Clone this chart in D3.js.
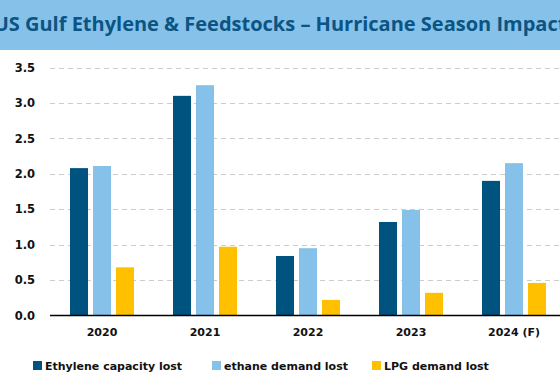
<!DOCTYPE html>
<html><head><meta charset="utf-8">
<script src="https://cdn.jsdelivr.net/npm/d3@7"></script>
<style>body{margin:0;background:#fff}svg{display:block}</style>
</head><body>
<svg id="c" width="560" height="379"></svg>
<script>
const title = "US Gulf Ethylene & Feedstocks \u2013 Hurricane Season Impact";
const categories = ["2020", "2021", "2022", "2023", "2024 (F)"];
const seriesNames = ["Ethylene capacity lost", "ethane demand lost", "LPG demand lost"];
const ethyleneLost = [2.08, 3.10, 0.84, 1.32, 1.90];
const ethaneLost = [2.11, 3.25, 0.95, 1.49, 2.15];
const lpgLost = [0.68, 0.97, 0.22, 0.32, 0.46];
const yTicks = [0, 0.5, 1.0, 1.5, 2.0, 2.5, 3.0, 3.5];
const colors = ["#00527f", "#85c1e9", "#ffc000"];

const series = [ethyleneLost, ethaneLost, lpgLost];
const svg = d3.select("#c");

// title band
svg.append("rect").attr("x",0).attr("y",0).attr("width",560).attr("height",50).attr("fill","#85c1e9");
svg.append("text").attr("x",280).attr("y",31).attr("text-anchor","middle")
  .attr("font-family","'Open Sans', sans-serif").attr("font-weight","bold").attr("font-size",20)
  .attr("fill","#0b5483").text(title);

const x0 = d3.scaleBand().domain(categories).range([50.5, 565.5]).paddingInner(0).paddingOuter(0);
const x1 = d3.scaleBand().domain(seriesNames).range([x0.bandwidth()/2-32, x0.bandwidth()/2+32]).paddingInner(0.217);
const y = d3.scaleLinear().domain([0, 3.5]).range([315.5, 67.5]);

// grid
svg.append("g").selectAll("line").data(yTicks.filter(d=>d>0)).join("line")
  .attr("x1",50).attr("x2",560).attr("y1",d=>Math.round(y(d))+0.5).attr("y2",d=>Math.round(y(d))+0.5)
  .attr("stroke","#cccccc").attr("stroke-width",1).attr("stroke-dasharray","5,4");

// y axis labels
const yAxis = d3.axisLeft(y).tickValues(yTicks).tickFormat(d3.format(".1f")).tickSize(0).tickPadding(0);
const ya = svg.append("g").attr("transform","translate(35,0)").call(yAxis);
ya.select(".domain").remove();
ya.selectAll("text").attr("font-family","'DejaVu Sans', sans-serif").attr("font-weight","bold")
  .attr("font-size",11.5).attr("fill","#111");

// bars
const g = svg.append("g");
categories.forEach((c,i)=>{
  seriesNames.forEach((s,j)=>{
    const v = series[j][i];
    g.append("rect").attr("x",x0(c)+x1(s)).attr("width",x1.bandwidth())
      .attr("y",y(v)).attr("height",y(0)-y(v)).attr("fill",colors[j]);
  });
});

// zero line
svg.append("line").attr("x1",50).attr("x2",560).attr("y1",315.5).attr("y2",315.5)
  .attr("stroke","#000").attr("stroke-width",1.5);

// x axis labels
const xAxis = d3.axisBottom(x0).tickSize(0).tickPadding(0);
const xa = svg.append("g").attr("transform","translate(0,328)").call(xAxis);
xa.select(".domain").remove();
xa.selectAll("text").attr("font-family","'DejaVu Sans', sans-serif").attr("font-weight","bold")
  .attr("font-size",11).attr("fill","#111");

// legend
const legX = [33, 212, 372];
const leg = svg.append("g");
seriesNames.forEach((s,j)=>{
  leg.append("rect").attr("x",legX[j]).attr("y",361).attr("width",9).attr("height",9).attr("fill",colors[j]);
  leg.append("text").attr("x",legX[j]+12).attr("y",370).attr("font-family","'DejaVu Sans', sans-serif")
    .attr("font-weight","bold").attr("font-size",11).attr("fill","#111").text(s);
});
</script>
</body></html>
